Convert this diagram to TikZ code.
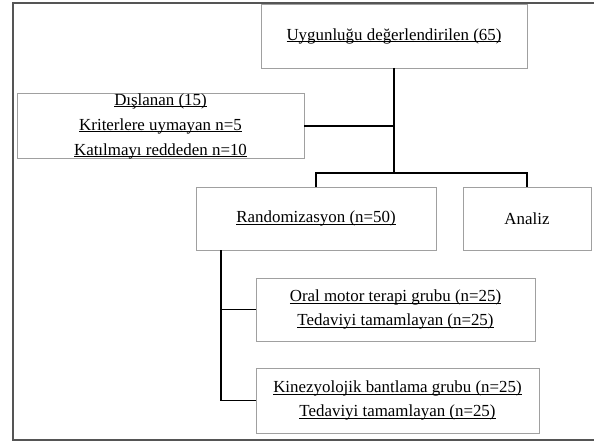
\documentclass[tikz,border=0pt]{standalone}
\usepackage{fontspec}
\setmainfont{Liberation Serif}
\usetikzlibrary{positioning}
\newsavebox{\undlbox}
\newcommand{\undl}[1]{\sbox{\undlbox}{#1}\rlap{\rule[-2pt]{\wd\undlbox}{0.8pt}}\usebox{\undlbox}}
\definecolor{c999999}{RGB}{160,160,160}
\definecolor{c555555}{RGB}{85,85,85}

\begin{document}
\begin{tikzpicture}[y=1pt, x=1pt, yscale=-1, inner sep=0pt, outer sep=0pt,
  box/.style={draw=c999999, line width=0.9pt, fill=white, align=center,
    font=\fontsize{16.9}{24}\selectfont},
  link/.style={draw=black, line width=1.5pt}]
  \useasboundingbox (0,0) rectangle (594,441);
  \path[draw=c555555, line width=1.5pt] (600,3) -- (13,3) -- (13,440) -- (600,440);
  \node[box, minimum width=266, minimum height=64] (eligible) at (394,36)
    {\undl{Uygunluğu değerlendirilen (65)}};
  \node[box, minimum width=287, minimum height=64] (excluded) at (160.5,126)
    {\undl{Dışlanan (15)}\\[1pt]\undl{Kriterlere uymayan n=5}\\[1pt]\undl{Katılmayı reddeden n=10}};
  \node[box, minimum width=240, minimum height=63] (random) at (316,218.5)
    {\undl{Randomizasyon (n=50)}};
  \node[box, minimum width=128, minimum height=63] (analiz) at (527,218.5)
    {Analiz};
  \node[box, minimum width=279, minimum height=63] (oral) at (395.5,309.5)
    {\undl{Oral motor terapi grubu (n=25)}\\\undl{Tedaviyi tamamlayan (n=25)}};
  \node[box, minimum width=283, minimum height=65] (kinezyo) at (397.5,400.5)
    {\undl{Kinezyolojik bantlama grubu (n=25)}\\\undl{Tedaviyi tamamlayan (n=25)}};
  \coordinate (split) at (394,173);
  \coordinate (trunk) at (221,250);
  \path[link] (eligible.south) -- (split);
  \path[link] (excluded.east) -- (excluded.east -| split);
  \path[link] (random.north) |- (split) -| (analiz.north);
  \path[link] (trunk) |- (kinezyo.west);
  \path[link] (oral.west) -- (oral.west -| trunk);
\end{tikzpicture}
\end{document}
